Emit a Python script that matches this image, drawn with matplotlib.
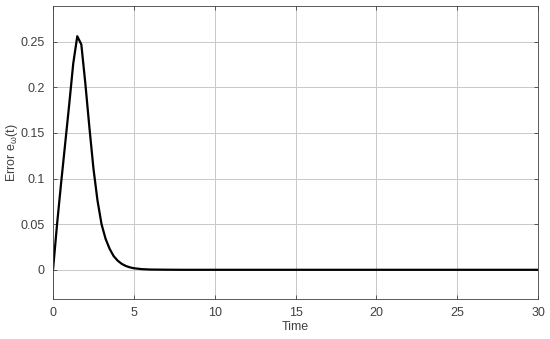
import matplotlib
matplotlib.use('Agg')
import matplotlib.pyplot as plt
import numpy as np

plt.rcParams['font.family'] = ['Liberation Sans', 'DejaVu Sans']
plt.rcParams['mathtext.default'] = 'regular'

# error curve
t = [0, 0.25, 0.5, 0.75, 1.0, 1.25, 1.5, 1.75, 2.0, 2.25, 2.5, 2.75, 3.0,
     3.25, 3.5, 3.75, 4.0, 4.25, 4.5, 4.75, 5.0, 5.5, 6.0, 7.0, 8.0, 10.0,
     15.0, 20.0, 25.0, 30.0]
err = [0, 0.05, 0.095, 0.138, 0.181, 0.226, 0.256, 0.247, 0.204, 0.156,
       0.111, 0.076, 0.050, 0.034, 0.023, 0.015, 0.010, 0.0065, 0.0042,
       0.0027, 0.0017, 0.0007, 0.0003, 0.0001, 0, 0, 0, 0, 0, 0]

xticks = [0, 5, 10, 15, 20, 25, 30]
yticks = [0, 0.05, 0.1, 0.15, 0.2, 0.25]
yticklabels = ['0', '0.05', '0.1', '0.15', '0.2', '0.25']

fig = plt.figure(figsize=(5.5, 3.39), dpi=100)
ax = fig.add_axes([0.0964, 0.118, 0.882, 0.864])

ax.plot(t, err, color='black', lw=1.6)

ax.set_xlim(0, 30)
ax.set_ylim(-0.032, 0.289)
ax.set_xticks(xticks)
ax.set_yticks(yticks)
ax.set_yticklabels(yticklabels)
ax.grid(True, color='#c8c8c8', lw=0.7)
ax.set_axisbelow(True)

for s in ax.spines.values():
    s.set_color('#404040')
    s.set_linewidth(0.6)
ax.tick_params(direction='in', length=3, width=0.6, colors='#404040',
               labelsize=9, top=True, right=True, pad=6)

ax.set_xlabel('Time', fontsize=9, color='#404040', labelpad=1)
ax.set_ylabel('Error e$_{\\omega}$(t)', fontsize=9, color='#404040', labelpad=0)

fig.savefig('out.png', dpi=100)
